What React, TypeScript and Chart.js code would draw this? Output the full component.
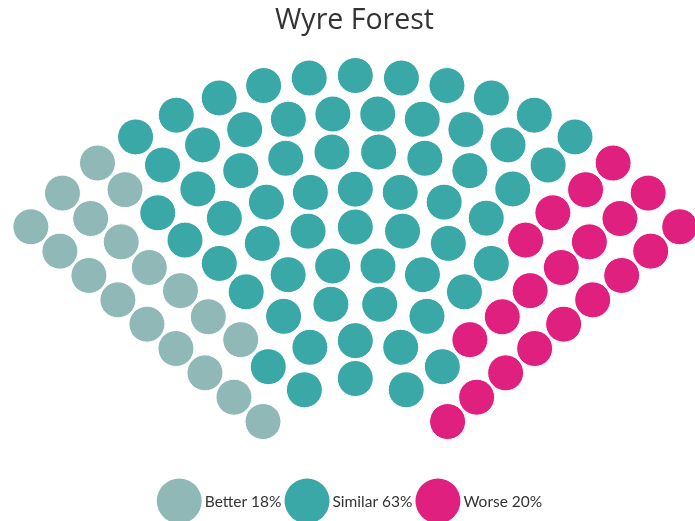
import React, { useEffect, useRef } from 'react';
import { Chart, registerables } from 'chart.js';

Chart.register(...registerables);

// ---- data ----
const TITLE = 'Wyre Forest';
const categories = ['Better', 'Similar', 'Worse'];
const values = [18, 63, 20];
const colors = ['#8fb8b7', '#3aa8a6', '#e0207f'];

// ---- layout / style ----
const W = 695;
const H = 521;
const FONT = 'Lato, "Open Sans", sans-serif';
const TITLE_FONT = '"Open Sans", Lato, sans-serif';
const TITLE_SIZE = 28.5;
const TITLE_PAD_TOP = 4;
const TITLE_PAD_BOTTOM = 0;
const TITLE_BLOCK = TITLE_SIZE * 1.2 + TITLE_PAD_TOP + TITLE_PAD_BOTTOM;
const PAD_LEFT = 14;

const CENTER_X = 355.3;
const CENTER_Y = 499;
const INNER_R = 120.5;
const OUTER_R = 423.5;
const ROWS = 9;
const START_DEG = -50;
const END_DEG = 50;
const DOT_R = 18;

const LEG_SIZE = 15.5;
const LEG_R = 22.5;
const LEG_GAP = 3;
const LEG_ITEM_GAP = 3;
const LEG_CX = 349.5;
const LEG_CY = 501;

type Slot = { x: number; y: number; angle: number; r: number };

// Parliament (item) layout: rows of concentric arcs, seats proportional to radius
function parliamentSlots(total: number): Slot[] {
  const radii: number[] = [];
  for (let i = 0; i < ROWS; i++) radii.push(INNER_R + (i * (OUTER_R - INNER_R)) / (ROWS - 1));
  const sumR = radii.reduce((a, b) => a + b, 0);
  const raw = radii.map((r) => (total * r) / sumR);
  const counts = raw.map((v) => Math.round(v));
  let diff = total - counts.reduce((a, b) => a + b, 0);
  while (diff !== 0) {
    let idx = 0;
    if (diff > 0) {
      let best = -Infinity;
      raw.forEach((v, i) => { if (v - counts[i] > best) { best = v - counts[i]; idx = i; } });
      counts[idx]++; diff--;
    } else {
      let best = Infinity;
      raw.forEach((v, i) => { if (v - counts[i] < best) { best = v - counts[i]; idx = i; } });
      counts[idx]--; diff++;
    }
  }
  const a0 = (START_DEG * Math.PI) / 180;
  const a1 = (END_DEG * Math.PI) / 180;
  const slots: Slot[] = [];
  radii.forEach((r, i) => {
    const n = counts[i];
    for (let c = 0; c < n; c++) {
      const ang = n > 1 ? a0 + ((a1 - a0) * c) / (n - 1) : 0;
      slots.push({ x: CENTER_X + r * Math.sin(ang), y: CENTER_Y - r * Math.cos(ang), angle: ang, r });
    }
  });
  slots.sort((p, q) => (Math.abs(p.angle - q.angle) > 1e-9 ? p.angle - q.angle : p.r - q.r));
  return slots;
}

const legendPlugin = {
  id: 'itemLegend',
  afterDraw(chart: any) {
    const ctx = chart.ctx as CanvasRenderingContext2D;
    ctx.save();
    ctx.font = `${LEG_SIZE}px ${FONT}`;
    const items = chart.data.datasets.map((ds: any) => ({ text: ds.label as string, color: ds.backgroundColor as string }));
    const widths = items.map((it: any) => LEG_R * 2 + LEG_GAP + ctx.measureText(it.text).width);
    const total = widths.reduce((a: number, b: number) => a + b, 0) + LEG_ITEM_GAP * (items.length - 1);
    let x = LEG_CX - total / 2;
    items.forEach((it: any, i: number) => {
      ctx.beginPath();
      ctx.arc(x + LEG_R, LEG_CY, LEG_R, 0, Math.PI * 2);
      ctx.fillStyle = it.color;
      ctx.fill();
      ctx.fillStyle = '#333333';
      ctx.textBaseline = 'middle';
      ctx.textAlign = 'left';
      ctx.fillText(it.text, x + LEG_R * 2 + LEG_GAP, LEG_CY + 1);
      x += widths[i] + LEG_ITEM_GAP;
    });
    ctx.restore();
  },
};

export default function App() {
  const ref = useRef<HTMLCanvasElement | null>(null);

  useEffect(() => {
    if (!ref.current) return;
    const total = values.reduce((a, b) => a + b, 0);
    const slots = parliamentSlots(total);
    let k = 0;
    const datasets = categories.map((cat, i) => {
      const pts = slots.slice(k, k + values[i]).map((s) => ({ x: s.x, y: s.y }));
      k += values[i];
      return {
        label: `${cat} ${values[i]}%`,
        data: pts,
        backgroundColor: colors[i],
        borderColor: '#ffffff',
        borderWidth: 1,
        pointRadius: DOT_R,
        pointHoverRadius: DOT_R,
        clip: false as any,
      };
    });

    const chart = new Chart(ref.current, {
      type: 'scatter',
      data: { datasets },
      options: {
        responsive: false,
        animation: false,
        events: [],
        layout: { padding: { left: PAD_LEFT, right: 0, top: 0, bottom: 0 }, autoPadding: false },
        scales: {
          x: { type: 'linear', min: PAD_LEFT, max: W, display: false },
          y: { type: 'linear', min: TITLE_BLOCK, max: H, reverse: true, display: false },
        },
        plugins: {
          legend: { display: false },
          tooltip: { enabled: false },
          title: {
            display: true,
            text: TITLE,
            color: '#333333',
            font: { family: TITLE_FONT, size: TITLE_SIZE, weight: 'normal' },
            padding: { top: TITLE_PAD_TOP, bottom: TITLE_PAD_BOTTOM },
          },
        },
      },
      plugins: [legendPlugin],
    });
    return () => chart.destroy();
  }, []);

  return (
    <div style={{ position: 'absolute', left: 0, top: 0, width: W, height: H, background: '#ffffff' }}>
      <canvas ref={ref} width={W} height={H} style={{ display: 'block' }} />
    </div>
  );
}
